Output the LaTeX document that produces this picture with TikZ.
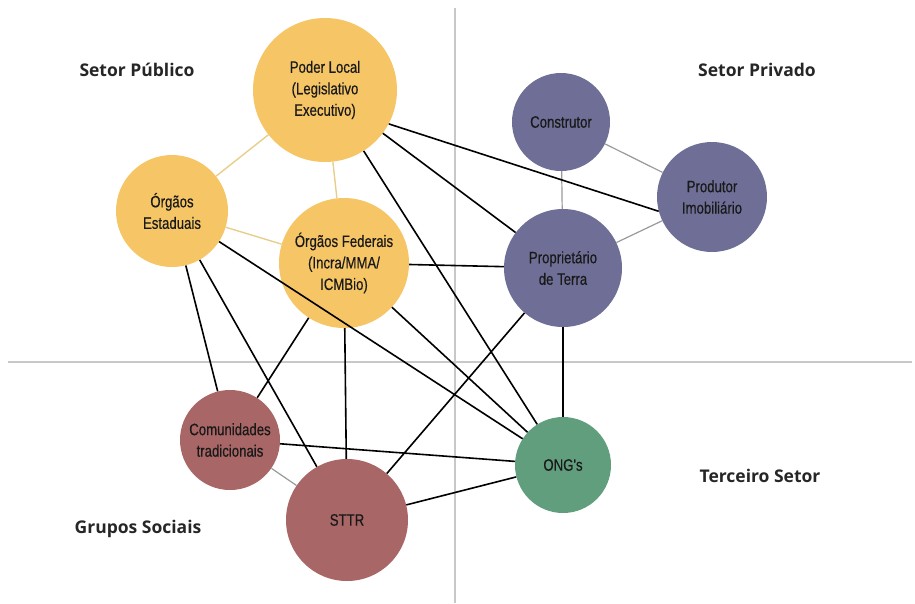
\documentclass[tikz,border=0pt]{standalone}
\usepackage{fontspec}
\setmainfont{Liberation Sans}
\newfontfamily\circfont[FakeStretch=0.8,FakeBold=0.4]{Liberation Sans}
\newfontfamily\setorfont{Open Sans}
\usetikzlibrary{calc}

\definecolor{publico}{RGB}{246,197,102}
\definecolor{privado}{RGB}{110,110,150}
\definecolor{social}{RGB}{168,102,102}
\definecolor{terceiro}{RGB}{96,158,126}
\definecolor{eixo}{RGB}{200,200,200}
\definecolor{areia}{RGB}{232,206,140}

\begin{document}
\begin{tikzpicture}[x=1pt,y=-1pt,
		ator/.style={circle,inner sep=0pt,align=center,text=black!90,
			font=\circfont\fontsize{16.5}{21.5}\selectfont},
		setor/.style={font=\setorfont\bfseries\fontsize{17.5}{20}\selectfont,text=black!85},
		forte/.style={line width=1.6pt,black},
		fraca/.style={line width=1.2pt,gray!80},
		clara/.style={line width=1.4pt,areia}
	]
		\useasboundingbox (0,0) rectangle (915,603);
		% eixos dos quadrantes
		\draw[eixo,line width=1.5pt] (455,8) -- (455,603);
		\draw[eixo,line width=1.5pt] (8,362) -- (912,362);

		% setores
		\node[setor] (tpublico) at (137,70) {Setor Público};
		\node[setor] (tprivado) at (757,70) {Setor Privado};
		\node[setor] (tterceiro) at (760,476) {Terceiro Setor};
		\node[setor] (tsocial) at (138,529) {Grupos Sociais};

		% setor público
		\node[ator,fill=publico,minimum size=144pt] (poder) at (325,90) {Poder Local\\(Legislativo\\Executivo)};
		\node[ator,fill=publico,minimum size=112pt] (estaduais) at (172,211) {Órgãos\\Estaduais};
		\node[ator,fill=publico,minimum size=130pt] (federais) at (344,263) {Órgãos Federais\\(Incra/MMA/\\ICMBio)};

		% setor privado
		\node[ator,fill=privado,minimum size=98pt] (construtor) at (561,122) {Construtor};
		\node[ator,fill=privado,minimum size=110pt] (produtor) at (712,197) {Produtor\\Imobiliário};
		\node[ator,fill=privado,minimum size=118pt] (proprietario) at (563,268) {Proprietário\\de Terra};

		% grupos sociais e terceiro setor
		\node[ator,fill=social,minimum size=100pt] (comunidades) at (230,440) {Comunidades\\tradicionais};
		\node[ator,fill=social,minimum size=122pt] (sttr) at (347,520) {STTR};
		\node[ator,fill=terceiro,minimum size=96pt] (ongs) at (563,465) {ONG's};

		% ligações internas
		\draw[clara] (poder) -- (estaduais);
		\draw[clara] (poder) -- (federais);
		\draw[clara] (estaduais) -- (federais);
		\draw[fraca] (construtor) -- (produtor);
		\draw[fraca] (construtor) -- (proprietario);
		\draw[fraca] (produtor) -- (proprietario);
		\draw[fraca] (comunidades) -- (sttr);

		% ligações entre setores
		\draw[forte] (poder.-28) -- (produtor.195);
		\draw[forte] (poder) -- (proprietario);
		\draw[forte] (poder) -- (ongs);
		\draw[forte] (estaduais) -- (comunidades);
		\draw[forte] (estaduais) -- (sttr);
		\draw[forte] (estaduais) -- (ongs);
		\draw[forte] (federais) -- (proprietario);
		\draw[forte] (federais) -- (ongs);
		\draw[forte] (federais) -- (sttr);
		\draw[forte] (federais) -- (comunidades);
		\draw[forte] (proprietario) -- (sttr);
		\draw[forte] (proprietario) -- (ongs);
		\draw[forte] (comunidades) -- (ongs);
		\draw[forte] (sttr) -- (ongs);
	\end{tikzpicture}
\end{document}
